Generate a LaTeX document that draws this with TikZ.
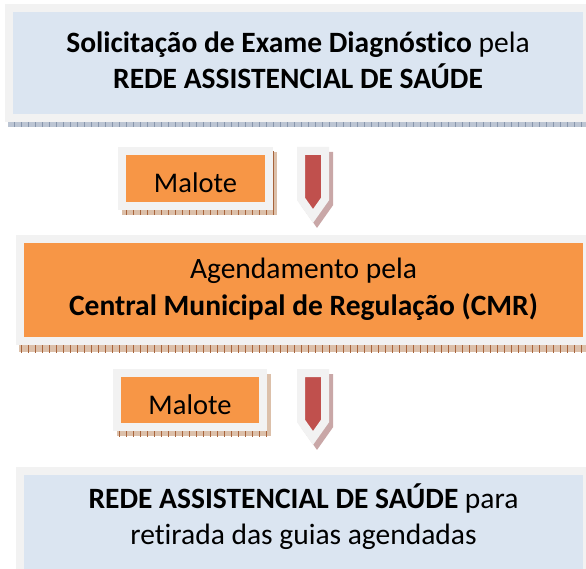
\documentclass[tikz,border=0pt]{standalone}
\usepackage{fontspec}
\setmainfont{Carlito}[Ligatures=NoCommon]
\usetikzlibrary{backgrounds,patterns.meta}

\definecolor{framegray}{HTML}{F2F2F2}
\definecolor{paleblue}{HTML}{DBE5F1}
\definecolor{officeorange}{HTML}{F79646}
\definecolor{officered}{HTML}{C0504D}
\definecolor{blueshadow}{HTML}{BCC5D3}
\definecolor{blueshadowline}{HTML}{8896AC}
\definecolor{orangeshadow}{HTML}{DCC0AA}
\definecolor{orangeshadowline}{HTML}{A8643C}
\definecolor{arrowshadow}{HTML}{C9A7A7}

\tikzset{
  flowbox/.style={draw=framegray, line width=8pt, inner sep=0pt, align=center,
    font=\fontsize{29.5}{36}\selectfont, text depth=0pt},
  bluebox/.style={flowbox, fill=paleblue},
  orangebox/.style={flowbox, fill=officeorange},
  malotebox/.style={orangebox, font=\fontsize{28.5}{34}\selectfont, text height=29pt},
  redarrow/.style={draw=framegray, fill=officered, line width=8pt, line join=miter},
  blueshade/.style={fill=blueshadow, postaction={pattern={Lines[angle=90,distance=7pt,line width=0.7pt]}, pattern color=blueshadowline}},
  orangeshade/.style={fill=orangeshadow, postaction={pattern={Lines[angle=90,distance=7pt,line width=0.7pt]}, pattern color=orangeshadowline}},
  arrowshade/.style={draw=arrowshadow, fill=arrowshadow, line width=8pt, line join=miter}
}

% down arrow outline, starting from the middle of its top edge
\newcommand{\downarrowpath}[1]{(#1) ++(-12,0) -- ++(24,0) -- ++(0,48) -- ++(-12,17) -- ++(-12,-17) -- cycle}

\begin{document}
\begin{tikzpicture}[x=1pt, y=-1pt]
    \useasboundingbox (0,0) rectangle (586,569);
    \clip (0,0) rectangle (586,569);

    % the three steps
    \node[bluebox, minimum width=578pt, minimum height=110pt, text height=52pt] (request) at (298,63)
        {\textbf{Solicitação de Exame Diagnóstico} pela\\\textbf{REDE ASSISTENCIAL DE SAÚDE}};
    \node[orangebox, minimum width=567pt, minimum height=102pt, text height=50pt] (schedule) at (303.5,290)
        {Agendamento pela\\\textbf{Central Municipal de Regulação (CMR)}};
    \node[bluebox, minimum width=567pt, minimum height=102pt, text height=44pt] (network) at (303.5,522)
        {\textbf{REDE ASSISTENCIAL DE SAÚDE} para\\retirada das guias agendadas};

    % malote tags
    \node[malotebox, minimum width=147pt, minimum height=55pt] (malote1) at (195.5,178.5) {Malote};
    \node[malotebox, minimum width=146pt, minimum height=54pt, text height=28pt] (malote2) at (190,400) {Malote};

    % arrows
    \coordinate (arrow1) at (313,151);
    \coordinate (arrow2) at (313,373);
    \foreach \a in {arrow1, arrow2} \draw[redarrow] \downarrowpath{\a};

    % shadows
    \begin{scope}[on background layer]
        \fill[blueshade] ([shift={(3pt,-5pt)}]request.north west) rectangle ([shift={(3pt,-5pt)}]request.south east);
        \fill[orangeshade] ([shift={(3pt,-7pt)}]schedule.north west) rectangle ([shift={(3pt,-7pt)}]schedule.south east);
        \foreach \m in {malote1, malote2}
            \fill[orangeshade] ([shift={(4pt,-5pt)}]\m.north west) rectangle ([shift={(4pt,-5pt)}]\m.south east);
        \foreach \a in {arrow1, arrow2} \draw[arrowshade] \downarrowpath{[shift={(4,5)}]\a};
    \end{scope}
\end{tikzpicture}
\end{document}
